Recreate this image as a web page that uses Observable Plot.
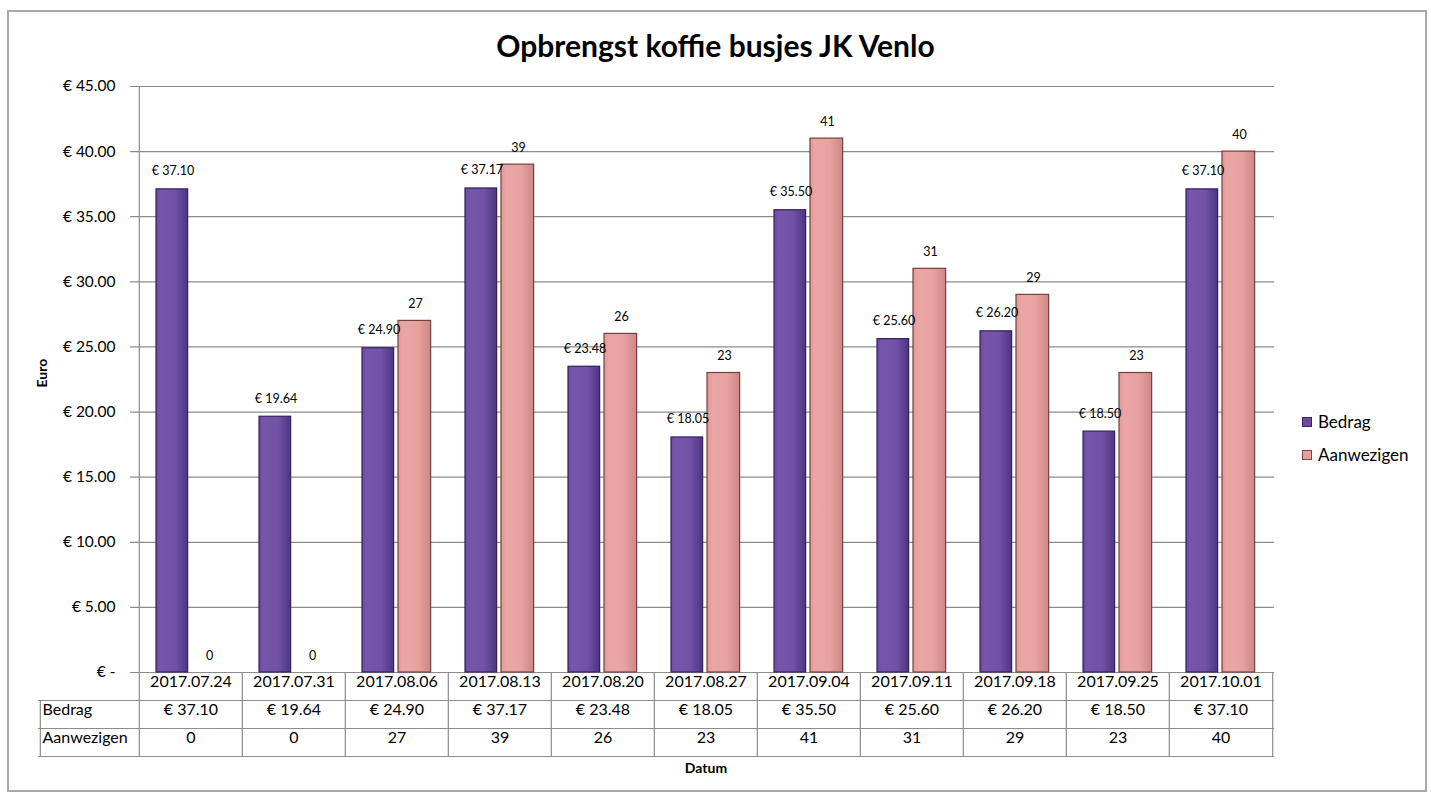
<!DOCTYPE html>
<html>
<head>
<meta charset="utf-8">
<script src="https://cdn.jsdelivr.net/npm/d3@7"></script>
<script src="https://cdn.jsdelivr.net/npm/@observablehq/plot@0.6"></script>
<style>
  body { margin: 0; background: #fff; font-family: Lato, "Open Sans", sans-serif; }
  #wrap { position: relative; width: 1431px; height: 796px; overflow: hidden; }
  #border { position: absolute; left: 7px; top: 10px; width: 1416px; height: 778px; border: 2px solid #a9a9a9; }
  #title { position: absolute; left: 0; width: 1431px; top: 27px; text-align: center; font-weight: bold; font-size: 30px; color: #000; }
  #chart { position: absolute; left: 0; top: 0; }
  #legend { position: absolute; left: 1302px; top: 405px; font-size: 17px; color: #000; }
  .item { display: flex; align-items: center; height: 33px; }
  .sw { width: 10px; height: 10px; margin-right: 6px; box-sizing: border-box; }
</style>
</head>
<body>
<div id="wrap">
  <div id="border"></div>
  <div id="chart"></div>
  <div id="title">Opbrengst koffie busjes JK Venlo</div>
  <div id="legend"></div>
</div>
<script>
const dates = ["2017.07.24","2017.07.31","2017.08.06","2017.08.13","2017.08.20","2017.08.27","2017.09.04","2017.09.11","2017.09.18","2017.09.25","2017.10.01"];
const bedrag = [37.10, 19.64, 24.90, 37.17, 23.48, 18.05, 35.50, 25.60, 26.20, 18.50, 37.10];
const aanwezigen = [0, 0, 27, 39, 26, 23, 41, 31, 29, 23, 40];
const seriesNames = ["Bedrag", "Aanwezigen"];
const yTicks = [0, 5, 10, 15, 20, 25, 30, 35, 40, 45];

const rows = dates.map((d, i) => ({date: d, bedrag: bedrag[i], aanwezigen: aanwezigen[i]}));
const euro = v => v === 0 ? "€ -" : "€ " + v.toFixed(2);

const W = 1431, H = 796, mL = 137, mR = 157, mT = 86, mB = 124;
const bw = (W - mL - mR) / dates.length;
const half = bw / 2;
const frameH = H - mT - mB;
const lineC = "#8c8c8c";

const chart = Plot.plot({
  width: W, height: H,
  marginLeft: mL, marginRight: mR, marginTop: mT, marginBottom: mB,
  style: {fontFamily: "Lato, 'Open Sans', sans-serif", fontSize: "15px", color: "#000", background: "transparent", overflow: "visible"},
  x: {domain: dates, padding: 0, axis: null},
  y: {domain: [0, 45], axis: null},
  marks: [
    Plot.gridY(yTicks, {stroke: lineC, strokeOpacity: 1, strokeWidth: 1.2, insetLeft: -7}),
    Plot.axisY(yTicks, {tickFormat: euro, tickSize: 0, tickPadding: 22, fontSize: 15.5, label: null}),
    // table horizontal lines
    Plot.ruleY([0], {dy: 28, stroke: lineC, strokeWidth: 1.2, insetLeft: -99}),
    Plot.ruleY([0], {dy: 56, stroke: lineC, strokeWidth: 1.2, insetLeft: -99}),
    Plot.ruleY([0], {dy: 84, stroke: lineC, strokeWidth: 1.2, insetLeft: -99}),
    // axis line + table left border of the date columns
    Plot.ruleX([dates[0]], {dx: -half, stroke: lineC, strokeWidth: 1.2, insetBottom: -84}),
    // table column separators
    Plot.ruleX(dates.slice(1), {dx: -half, stroke: lineC, strokeWidth: 1.2, insetTop: frameH, insetBottom: -84}),
    Plot.ruleX([dates[dates.length - 1]], {dx: half, stroke: lineC, strokeWidth: 1.2, insetTop: frameH, insetBottom: -84}),
    // row-label column left border
    Plot.ruleX([dates[0]], {dx: -half - 99, stroke: lineC, strokeWidth: 1.2, insetTop: frameH + 28, insetBottom: -84}),
    // bars
    Plot.barY(rows, {x: "date", y: "bedrag", fill: "url(#gradBedrag)", stroke: "#34205c", strokeWidth: 1.2, insetLeft: 17, insetRight: bw - 17 - 32}),
    Plot.barY(rows.filter(d => d.aanwezigen > 0), {x: "date", y: "aanwezigen", fill: "url(#gradAanw)", stroke: "#74403e", strokeWidth: 1.2, insetLeft: 53, insetRight: bw - 53 - 33}),
    // data labels
    Plot.text(rows, {x: "date", y: "bedrag", text: d => euro(d.bedrag), dx: -18, dy: -18, fontSize: 12.5}),
    Plot.text(rows, {x: "date", y: "aanwezigen", text: d => String(d.aanwezigen), dx: 18.5, dy: -17, fontSize: 12.5}),
    // data table
    Plot.text(dates, {x: d => d, frameAnchor: "bottom", dy: 14, fontSize: 16}),
    Plot.text(rows, {x: "date", text: d => euro(d.bedrag), frameAnchor: "bottom", dy: 42, fontSize: 16}),
    Plot.text(rows, {x: "date", text: d => String(d.aanwezigen), frameAnchor: "bottom", dy: 70, fontSize: 16}),
    Plot.text([seriesNames[0]], {frameAnchor: "bottom-left", dx: -95, dy: 42, textAnchor: "start", fontSize: 16}),
    Plot.text([seriesNames[1]], {frameAnchor: "bottom-left", dx: -95, dy: 70, textAnchor: "start", fontSize: 16}),
    // axis titles
    Plot.text(["Euro"], {frameAnchor: "left", dx: -95, dy: 8, rotate: -90, fontWeight: "bold", fontSize: 14}),
    Plot.text(["Datum"], {frameAnchor: "bottom", dy: 100, fontWeight: "bold", fontSize: 14})
  ]
});

// gradients for bars (slight bevel: light top, darker edges)
const defs = d3.select(chart).insert("defs", ":first-child");
function grad(id, stops, horizontal) {
  const g = defs.append("linearGradient").attr("id", id)
    .attr("x1", 0).attr("y1", 0).attr("x2", horizontal ? 1 : 0).attr("y2", horizontal ? 0 : 1);
  stops.forEach(([o, c]) => g.append("stop").attr("offset", o).attr("stop-color", c));
}
grad("gradBedrag", [[0, "#6a4c9f"], [0.15, "#7656aa"], [0.6, "#7252a6"], [1, "#4f3584"]], true);
grad("gradAanw", [[0, "#e09896"], [0.15, "#eaa6a4"], [0.6, "#e8a3a1"], [1, "#cc8886"]], true);

document.getElementById("chart").appendChild(chart);

// legend
const legend = document.getElementById("legend");
const swatchColors = [["#6a4c9c", "#3b2566"], ["#e6a09e", "#7d4543"]];
seriesNames.forEach((name, i) => {
  const item = document.createElement("div");
  item.className = "item";
  const sw = document.createElement("span");
  sw.className = "sw";
  sw.style.background = swatchColors[i][0];
  sw.style.border = "1px solid " + swatchColors[i][1];
  item.appendChild(sw);
  item.appendChild(document.createTextNode(name));
  legend.appendChild(item);
});
</script>
</body>
</html>
